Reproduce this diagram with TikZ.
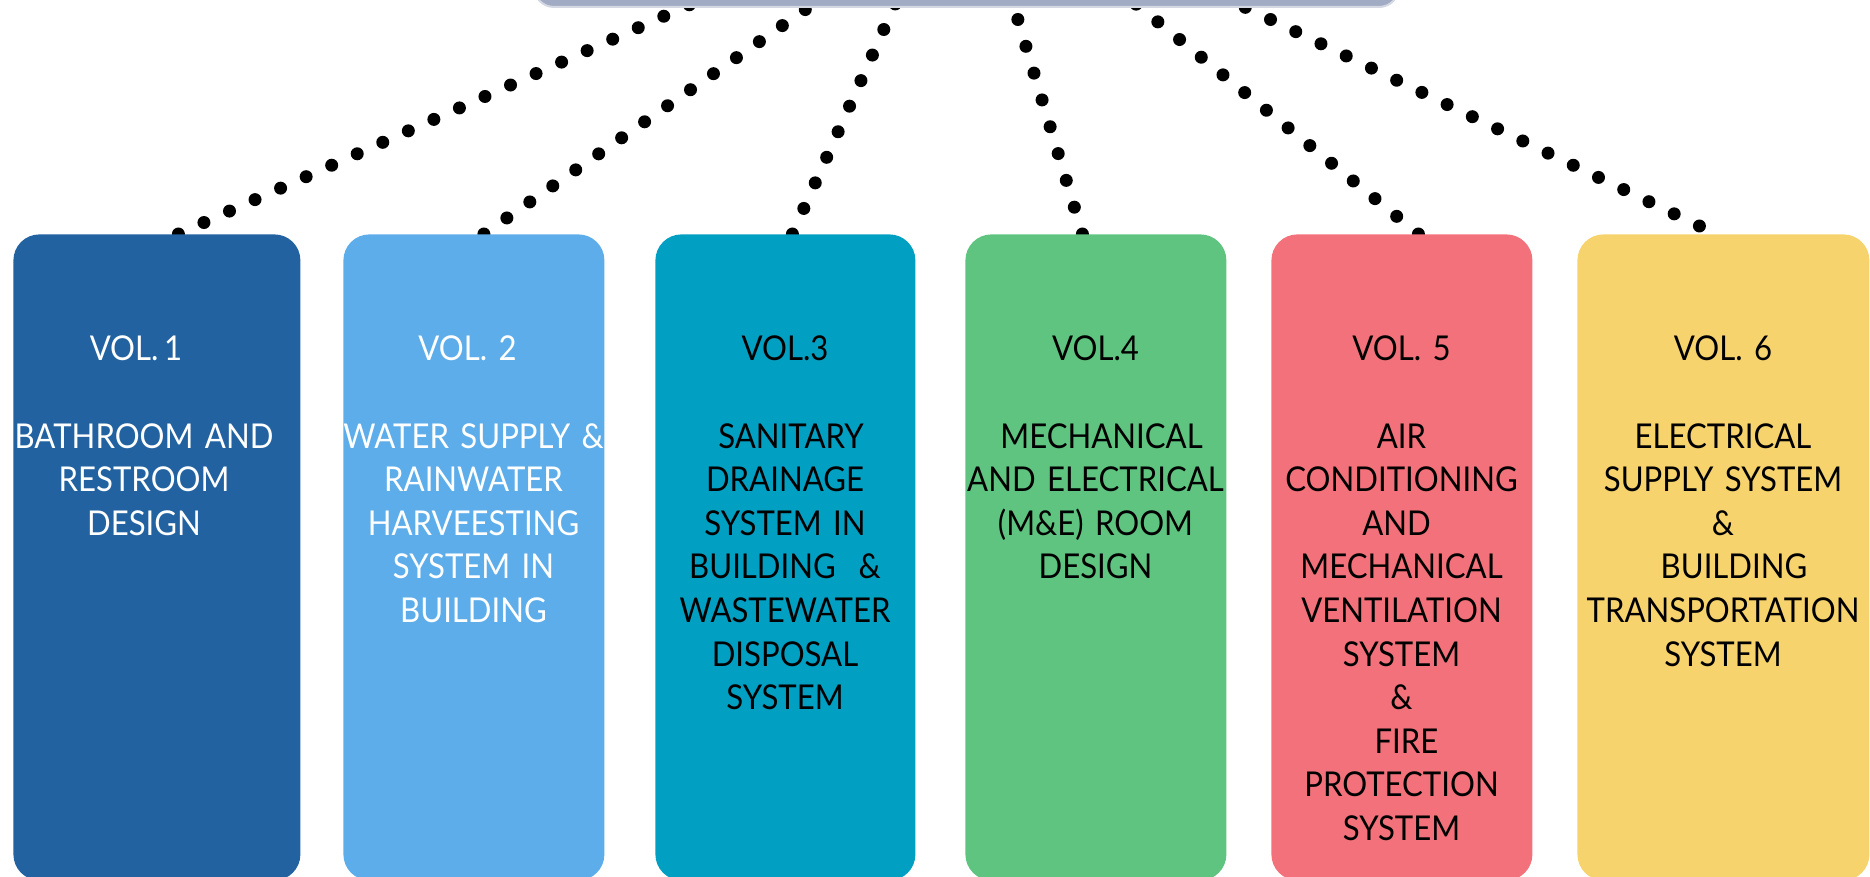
\documentclass[tikz,border=0pt]{standalone}
\usepackage{fontspec}
\setmainfont{Lato}[FakeStretch=0.91]
\usetikzlibrary{calc,backgrounds}
\definecolor{topc}{HTML}{A1ABC3}
\definecolor{topedge}{HTML}{D3D8E3}
\definecolor{c1}{HTML}{2262A1}
\definecolor{c2}{HTML}{5DADEB}
\definecolor{c3}{HTML}{019FC2}
\definecolor{c4}{HTML}{5EC480}
\definecolor{c5}{HTML}{F2717A}
\definecolor{c6}{HTML}{F6D36C}
\newcommand{\volfont}{\fontsize{17.1pt}{21.8pt}\selectfont}
\newcommand{\trail}[1]{\kern#1\mbox{}}
\tikzset{
  volbox/.style={rectangle, rounded corners=13pt, anchor=north west, inner sep=0pt, minimum height=323pt},
  topbox/.style={rectangle, rounded corners=10pt, anchor=south west, inner sep=0pt, fill=topc, draw=topedge, line width=1pt},
  lbl/.style={anchor=base, inner sep=0pt, text width=150pt, align=center, font=\volfont},
  dots/.style={line width=6.5pt, dash pattern=on 0pt off 14pt, line cap=round, black}
}
\begin{document}
\begin{tikzpicture}[x=0.5pt, y=-0.5pt]
\useasboundingbox (0,0) rectangle (1870,877);
% top box
\node[topbox, minimum width=432.5pt, minimum height=60pt] (top) at (533,8) {};
% volume boxes
\node[volbox, fill=c1, minimum width=143.5pt] (b1) at (13,234) {};
\node[volbox, fill=c2, minimum width=130.5pt] (b2) at (343,234) {};
\node[volbox, fill=c3, minimum width=130pt] (b3) at (655,234) {};
\node[volbox, fill=c4, minimum width=130.5pt] (b4) at (965,234) {};
\node[volbox, fill=c5, minimum width=130.5pt] (b5) at (1271,234) {};
\node[volbox, fill=c6, minimum width=146pt] (b6) at (1577,234) {};
% labels
\node[lbl, text=white] (t1) at (144,361) {VOL.\,1\trail{8pt}\\[21.8pt]BATHROOM AND\\RESTROOM\\DESIGN};
\node[lbl, text=white] (t2) at (473.5,361) {VOL. 2\trail{6pt}\\[21.8pt]WATER SUPPLY \&\\RAINWATER\\HARVEESTING\\SYSTEM IN\\BUILDING};
\node[lbl, text=black] (t3) at (785,361) {VOL.3\\[21.8pt]\hspace*{6pt}SANITARY\\DRAINAGE\\SYSTEM IN\\BUILDING\ \ \&\\WASTEWATER\\DISPOSAL\\SYSTEM};
\node[lbl, text=black] (t4) at (1095.5,361) {VOL.4\\[21.8pt]\hspace*{6pt}MECHANICAL\\AND ELECTRICAL\\(M\&E) ROOM\\DESIGN};
\node[lbl, text=black] (t5) at (1401.5,361) {VOL. 5\\[21.8pt]AIR\\CONDITIONING\\AND\trail{5pt}\\MECHANICAL\\VENTILATION\\SYSTEM\\\&\\\hspace*{5pt}FIRE\\PROTECTION\\SYSTEM};
\node[lbl, text=black] (t6) at (1723,361) {VOL. 6\\[21.8pt]ELECTRICAL\\SUPPLY SYSTEM\\\&\\\hspace*{11pt}BUILDING\\TRANSPORTATION\\SYSTEM};
% dotted connectors
\begin{pgfonlayer}{background}
\draw[dots] ($(b1.north)+(21.5,0)$) -- ($(top.south)+(-266.5,-8)$);
\draw[dots] ($(b2.north)+(10,0)$) -- ($(top.south)+(-147.5,-8)$);
\draw[dots] ($(b3.north)+(7,0)$) -- ($(top.south)+(-69.5,-8)$);
\draw[dots] ($(b4.north)+(-13.5,0)$) -- ($(top.south)+(45.5,-8)$);
\draw[dots] ($(b5.north)+(16.5,0)$) -- ($(top.south)+(164.5,-8)$);
\draw[dots] ($(b6.north)+(-24,-8)$) -- ($(top.south)+(263.5,-8)$);
\end{pgfonlayer}
\end{tikzpicture}
\end{document}
